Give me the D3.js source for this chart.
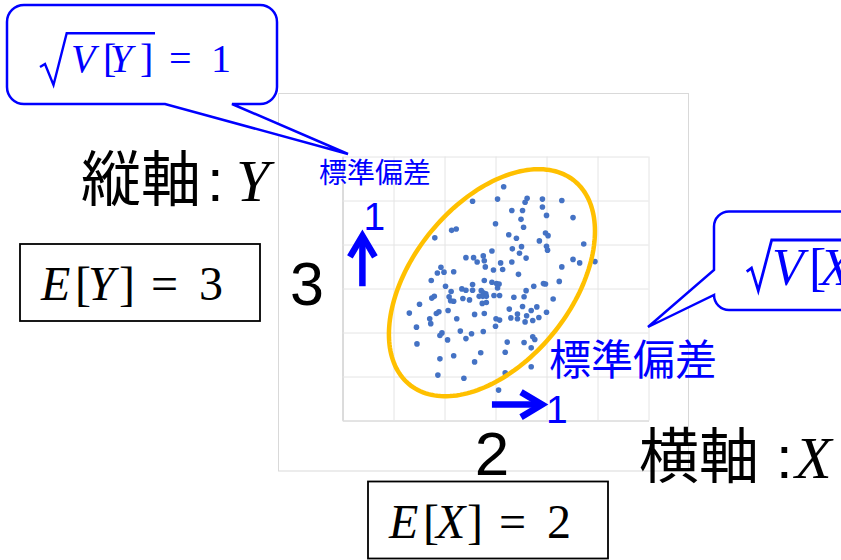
<!DOCTYPE html>
<html>
<head>
<meta charset="utf-8">
<title>標準偏差</title>
<script src="https://cdn.jsdelivr.net/npm/d3@7"></script>
<style>
  body { margin: 0; background: #fff; }
  svg { display: block; }
</style>
</head>
<body>
<div id="viz"></div>
<script>
// grid values (1 unit per grid cell)
const gridX = [-1, 0, 1, 2, 3, 4, 5];
const gridY = [0, 1, 2, 3, 4, 5, 6];
const meanX = 2, meanY = 3;

// scatter points
const pointsX = [2.17,1.56,2.05,2.63,2.59,2.93,3.31,2.93,2.33,2.54,
  3.01,3.53,2.51,2.01,2.56,1.15,1.24,0.82,2.27,2.42,
  2.99,3.04,2.87,3.74,2.52,2.34,3.01,3.03,2.48,1.94,
  1.43,1.58,1.77,1.65,1.79,2.61,2.33,2.11,3.53,3.66,
  3.96,1.81,1.97,2.15,0.94,1.00,0.87,1.19,2.46,3.31,
  0.75,1.79,1.94,2.03,2.08,2.05,3.26,2.95,2.99,1.03,
  1.56,1.35,1.43,1.56,1.14,1.73,1.77,1.69,1.82,1.76,
  1.83,1.75,1.83,1.98,2.09,2.37,2.57,2.76,2.61,0.76,
  0.81,0.52,1.10,1.13,1.19,1.37,1.50,3.14,1.08,0.90,
  0.85,0.32,1.60,1.79,2.28,2.31,2.44,2.54,2.71,2.82,
  2.44,2.62,2.74,2.86,3.01,2.02,2.09,2.01,2.59,1.25,
  0.72,0.74,0.46,1.32,1.54,0.96,0.92,1.77,1.43,1.07,
  0.47,2.24,2.57,2.74,2.78,2.71,1.72,1.19,0.92,1.60,
  2.20,2.71,0.88,1.39,2.20,2.07];
const pointsY = [5.30,4.97,5.02,5.04,4.95,5.02,4.99,4.84,4.76,4.76,
  4.65,4.60,4.56,4.46,4.38,4.31,4.34,4.14,4.21,4.13,
  4.25,4.19,4.07,4.00,3.94,3.89,3.95,3.86,3.79,3.84,
  3.69,3.69,3.73,3.59,3.62,3.68,3.59,3.57,3.65,3.57,
  3.60,3.48,3.41,3.42,3.47,3.36,3.34,3.37,3.31,3.48,
  3.17,3.17,3.13,3.10,3.09,3.00,3.15,3.10,3.09,3.04,
  3.08,2.98,2.95,2.95,2.92,2.94,2.89,2.81,2.87,2.81,
  2.81,2.65,2.67,2.83,2.83,2.79,2.80,3.04,2.94,2.77,
  2.81,2.63,2.80,2.71,2.70,2.76,2.73,2.75,2.49,2.46,
  2.42,2.43,2.40,2.42,2.52,2.32,2.41,2.58,2.49,2.57,
  2.30,2.37,2.26,2.33,2.45,2.30,2.27,2.13,2.23,2.30,
  2.30,2.19,2.11,2.02,1.96,1.98,1.92,2.01,1.85,1.82,
  1.73,1.77,1.76,1.89,1.83,1.64,1.53,1.46,1.39,1.32,
  1.54,1.21,1.02,0.95,1.07,0.68];

// ellipse: x = cx + rx*cos t, y = cy + ry*cos(t - phase)
const ellipseCenter = [1.94, 3.12];
const ellipseRadii = [2.02, 2.58];
const ellipsePhase = 1.10;

// standard deviation arrows (data units)
const upArrow = { x: -0.6, from: 3.04, to: 4.32 };
const rightArrow = { y: 0.35, from: 1.94, to: 3.04 };

const width = 841, height = 560;
const blue = "#0000ff";
const cjk = "'Noto Sans CJK JP', 'Noto Sans CJK SC', sans-serif";
const serif = "'Liberation Serif', 'DejaVu Serif', serif";
const sans = "'Liberation Sans', Arial, sans-serif";

const x = d3.scaleLinear().domain([-1, 5]).range([342, 648]);
const y = d3.scaleLinear().domain([0, 6]).range([420, 156]);

const svg = d3.select("#viz").append("svg")
  .attr("width", width).attr("height", height);

// outer chart frame
svg.append("rect")
  .attr("x", 278.5).attr("y", 93.5).attr("width", 410).attr("height", 377.5)
  .attr("fill", "none").attr("stroke", "#d9d9d9");

// gridlines
const grid = svg.append("g").attr("transform", "translate(0.5,0.5)");
const gx = grid.append("g").attr("transform", `translate(0,${y(0)})`)
  .call(d3.axisBottom(x).tickValues(gridX).tickSize(-(y(0) - y(6))).tickSizeOuter(0).tickFormat(""));
const gy = grid.append("g").attr("transform", `translate(${x(-1)},0)`)
  .call(d3.axisLeft(y).tickValues(gridY).tickSize(-(x(5) - x(-1))).tickSizeOuter(0).tickFormat(""));
[gx, gy].forEach(g => {
  g.selectAll(".tick line").attr("stroke", "#e4e4e4");
  g.select(".domain").attr("stroke", "#c6c6c6");
});

// points
svg.append("g").selectAll("circle")
  .data(d3.range(pointsX.length))
  .join("circle")
  .attr("cx", i => x(pointsX[i]))
  .attr("cy", i => y(pointsY[i]))
  .attr("r", 2.8)
  .attr("fill", "#4472c4");

// ellipse
const ts = d3.range(0, 2 * Math.PI, Math.PI / 90);
svg.append("path")
  .datum(ts)
  .attr("d", d3.line()
    .x(t => x(ellipseCenter[0] + ellipseRadii[0] * Math.cos(t)))
    .y(t => y(ellipseCenter[1] + ellipseRadii[1] * Math.cos(t - ellipsePhase)))
    .curve(d3.curveLinearClosed))
  .attr("fill", "none").attr("stroke", "#ffc000").attr("stroke-width", 4.5);

// arrows
function arrow(x0, y0, x1, y1) {
  const len = Math.hypot(x1 - x0, y1 - y0);
  const ux = (x1 - x0) / len, uy = (y1 - y0) / len;
  const tx = x1 - ux * 6, ty = y1 - uy * 6;
  const g = svg.append("g").attr("stroke", blue).attr("fill", "none").attr("stroke-width", 6.5);
  g.append("line").attr("x1", x0).attr("y1", y0).attr("x2", tx - ux * 3).attr("y2", ty - uy * 3);
  const bx = tx - ux * 21, by = ty - uy * 21;
  g.append("polyline")
    .attr("points", [[bx - uy * 12.5, by + ux * 12.5], [tx, ty], [bx + uy * 12.5, by - ux * 12.5]].map(p => p.join(",")).join(" "))
    .attr("stroke-linejoin", "miter").attr("stroke-miterlimit", 10);
}
arrow(x(upArrow.x), y(upArrow.from), x(upArrow.x), y(upArrow.to));
arrow(x(rightArrow.from), y(rightArrow.y), x(rightArrow.to), y(rightArrow.y));

svg.append("text").attr("x", x(upArrow.x) + 1).attr("y", 230)
  .attr("font-family", sans).attr("font-size", 39).attr("fill", blue).text("1");
svg.append("text").attr("x", x(rightArrow.to) - 2).attr("y", 423)
  .attr("font-family", sans).attr("font-size", 39).attr("fill", blue).text("1");

// mean labels
svg.append("text").attr("x", 290).attr("y", y(meanY) + 17)
  .attr("font-family", sans).attr("font-size", 61).text(String(meanY));
svg.append("text").attr("x", x(meanX) - 3).attr("y", 475).attr("text-anchor", "middle")
  .attr("font-family", sans).attr("font-size", 62).text(String(meanX));

// 標準偏差 labels
svg.append("text").attr("x", 319).attr("y", 183)
  .attr("font-family", cjk).attr("font-size", 28).attr("fill", blue).text("標準偏差");
svg.append("text").attr("x", 549).attr("y", 375)
  .attr("font-family", cjk).attr("font-size", 42).attr("fill", blue).text("標準偏差");

// multi-part text in one element: parts = [string, x, italic, family]
function mathText(base, size, color, parts) {
  const t = svg.append("text").attr("y", base).attr("font-size", size).attr("fill", color);
  parts.forEach(([s, px, it, fam]) => {
    t.append("tspan").attr("x", px)
      .attr("font-family", fam || serif)
      .attr("font-style", it ? "italic" : "normal").text(s);
  });
}

// axis titles
mathText(201, 60, "#000", [["縦軸", 81, false, cjk], [":", 207, false, sans], ["Y", 236, true]]);
mathText(478, 60, "#000", [["横軸", 639, false, cjk], [":", 776, false, sans], ["X", 795, true]]);

// expectation boxes: E[V] = m
function expBox(left, top, v, m) {
  svg.append("rect").attr("x", left).attr("y", top).attr("width", 240).attr("height", 77)
    .attr("fill", "#fff").attr("stroke", "#000").attr("stroke-width", 1.8);
  mathText(top + 56, 48, "#000", [
    ["E", left + 21, true], ["[", left + 55, false], [v, left + 68, true],
    ["]", left + 99, false], ["=", left + 131, false], [String(m), left + 179, false]]);
}
expBox(20, 244, "Y", meanY);
expBox(368, 481.5, "X", meanX);

// callouts
function roundedCallout(x0, y0, x1, y1, r, pointer) {
  let d = `M${x0 + r},${y0} H${x1 - r} A${r},${r} 0 0 1 ${x1},${y0 + r} V${y1 - r} A${r},${r} 0 0 1 ${x1 - r},${y1}`;
  if (pointer.side === "bottom") {
    d += ` H${pointer.b} L${pointer.tip[0]},${pointer.tip[1]} L${pointer.a},${y1}`;
  }
  d += ` H${x0 + r} A${r},${r} 0 0 1 ${x0},${y1 - r}`;
  if (pointer.side === "left") {
    d += ` V${pointer.b} L${pointer.tip[0]},${pointer.tip[1]} L${x0},${pointer.a}`;
  }
  d += ` V${y0 + r} A${r},${r} 0 0 1 ${x0 + r},${y0} Z`;
  svg.append("path").attr("d", d).attr("fill", "#fff").attr("stroke", blue).attr("stroke-width", 2.5);
}
roundedCallout(7, 5, 277, 104, 17, { side: "bottom", a: 165, b: 232, tip: [348, 154] });
roundedCallout(714, 211.5, 900, 310, 15, { side: "left", a: 270, b: 295, tip: [648, 327] });

// radical sign with overline
function radical(pts, overEnd, w) {
  const p = d3.path();
  p.moveTo(pts[0][0], pts[0][1]);
  pts.slice(1).forEach(q => p.lineTo(q[0], q[1]));
  p.lineTo(overEnd, pts[pts.length - 1][1]);
  svg.append("path").attr("d", p.toString())
    .attr("fill", "none").attr("stroke", blue).attr("stroke-width", w);
}
radical([[40, 67], [45, 64], [53.5, 85], [66.7, 33.3]], 155, 2.4);
mathText(72, 40, blue, [["V", 71, true], ["[", 103, false], ["Y", 110, true], ["]", 140, false], ["=", 169, false], ["1", 211, false]]);

radical([[746.7, 271.7], [751.5, 268], [758.3, 290.7], [771.7, 240]], 900, 2.8);
mathText(285, 52, blue, [["V", 772, true], ["[", 809, false], ["X", 820, true], ["]", 860, false], ["=", 890, false], ["1", 940, false]]);
</script>
</body>
</html>
